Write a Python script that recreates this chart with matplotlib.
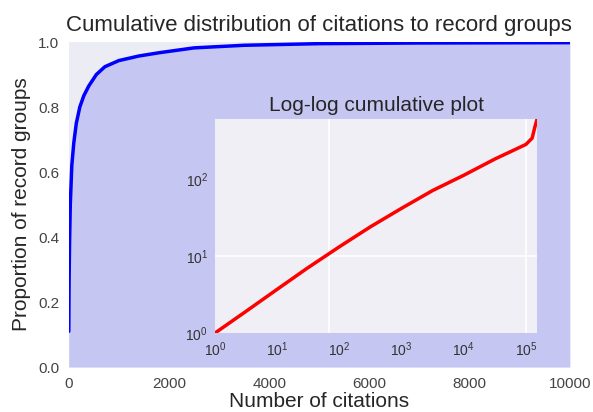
import matplotlib
matplotlib.use('Agg')
import matplotlib.pyplot as plt
import numpy as np

plt.rcParams['font.family'] = ['Liberation Sans', 'DejaVu Sans']
plt.rcParams['mathtext.fontset'] = 'custom'
plt.rcParams['mathtext.rm'] = 'Liberation Sans'
plt.rcParams['mathtext.it'] = 'Liberation Sans'

# cumulative distribution (main plot)
citations = [0, 5, 15, 30, 60, 100, 150, 220, 300, 400, 550, 720, 1000, 1400,
             1800, 2500, 3500, 5000, 7000, 10000]
proportion = [0.11, 0.25, 0.38, 0.50, 0.62, 0.69, 0.75, 0.80, 0.835, 0.865,
              0.90, 0.924, 0.943, 0.957, 0.967, 0.982, 0.99, 0.995, 0.997, 0.998]

# log-log cumulative (inset)
loglog_x = [1, 3, 10, 30, 100, 316, 1000, 3160, 10000, 31600, 100000,
            126000, 138000, 151000]
loglog_y = [1, 1.86, 3.7, 6.9, 13.2, 24, 41.7, 71, 112, 182, 282,
            340, 460, 600]

main_ticks_x = [0, 2000, 4000, 6000, 8000, 10000]
main_ticks_y = [0.0, 0.2, 0.4, 0.6, 0.8, 1.0]
inset_ticks_x = [1, 10, 100, 1000, 10000, 100000]
inset_ticks_y = [1, 10, 100]
inset_grid_x = [68, 100000]
inset_grid_y = [10]

fig = plt.figure(figsize=(5.93, 4.12), dpi=100)
ax = fig.add_axes([0.116, 0.109, 0.845, 0.789])
ax.set_facecolor('#ececf4')
ax.fill_between(citations, 0, proportion, color='#c6c6f2', lw=0)
ax.plot(citations, proportion, color='#0000ff', lw=2.5, solid_capstyle='round')
ax.set_xlim(0, 10000)
ax.set_ylim(0, 1.0)
ax.set_xticks(main_ticks_x)
ax.set_yticks(main_ticks_y)
ax.set_yticklabels(['%.1f' % v for v in main_ticks_y])
ax.tick_params(length=0, labelsize=11, labelcolor='#444444', pad=7)
for s in ax.spines.values():
    s.set_visible(False)
ax.set_title('Cumulative distribution of citations to record groups',
             fontsize=16, color='#262626', pad=8)
ax.set_xlabel('Number of citations', fontsize=15, color='#262626', labelpad=1)
ax.set_ylabel('Proportion of record groups', fontsize=15, color='#262626', labelpad=5)

ins = fig.add_axes([0.3626, 0.1917, 0.543, 0.519])
ins.set_facecolor('#efeff5')
for gx in inset_grid_x:
    ins.axvline(gx, color='white', lw=1.2, zorder=0)
for gy in inset_grid_y:
    ins.axhline(gy, color='white', lw=1.2, zorder=0)
ins.plot(loglog_x, loglog_y, color='#ff0000', lw=2.5)
ins.set_xscale('log')
ins.set_yscale('log')
ins.set_xlim(loglog_x[0], loglog_x[-1])
ins.set_ylim(loglog_y[0], loglog_y[-1])
ins.set_xticks(inset_ticks_x)
ins.set_yticks(inset_ticks_y)
ins.minorticks_off()
ins.tick_params(length=0, labelsize=10, labelcolor='#333333', pad=5)
for s in ins.spines.values():
    s.set_visible(False)
ins.set_title('Log-log cumulative plot', fontsize=15, color='#262626', pad=6)

fig.savefig('out.png', dpi=100)
